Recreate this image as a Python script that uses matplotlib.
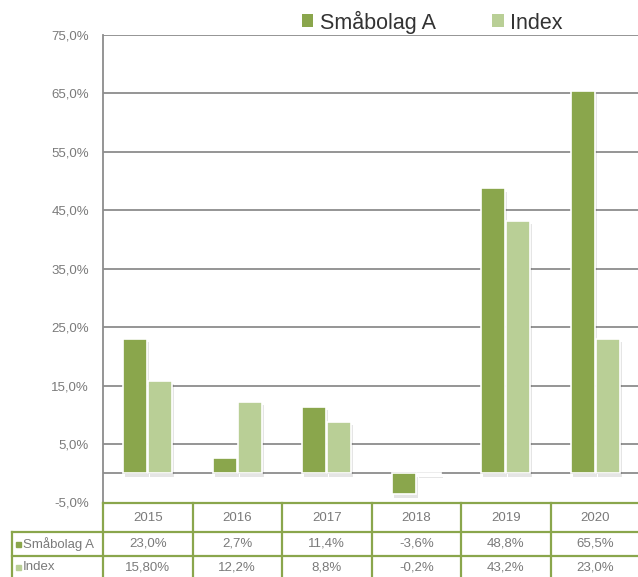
import matplotlib
matplotlib.use("Agg")
import matplotlib.pyplot as plt
import matplotlib.patheffects as pe
from matplotlib.patches import Rectangle
import numpy as np

years = ["2015", "2016", "2017", "2018", "2019", "2020"]
series_names = ["Småbolag A", "Index"]
smabolag = [23.0, 2.7, 11.4, -3.6, 48.8, 65.5]
index_vals = [15.8, 12.2, 8.8, -0.2, 43.2, 23.0]
smabolag_labels = ["23,0%", "2,7%", "11,4%", "-3,6%", "48,8%", "65,5%"]
index_labels = ["15,80%", "12,2%", "8,8%", "-0,2%", "43,2%", "23,0%"]
yticks = [-5, 5, 15, 25, 35, 45, 55, 65, 75]

DARK = "#8aa64c"
LIGHT = "#b9cf96"
TABLE_GREEN = "#8aa64c"
GRID = "#8c8c8c"
TXT = "#7a7a7a"

plt.rcParams['font.family'] = ['Liberation Sans', 'DejaVu Sans']

W, H = 638, 577
fig = plt.figure(figsize=(W / 100, H / 100), dpi=100)

ax_left, ax_right = 103, 640
ax_top, ax_bot = 35, 502.5
ax = fig.add_axes([ax_left / W, 1 - ax_bot / H, (ax_right - ax_left) / W, (ax_bot - ax_top) / H])
ax.set_xlim(-0.5, len(years) - 0.5)
ax.set_ylim(-5, 75)

x = np.arange(len(years))
bw = 0.268
shadow = [pe.SimplePatchShadow(offset=(1.5, -2.5), shadow_rgbFace="#000000", alpha=0.10), pe.Normal()]
b1 = ax.bar(x - bw / 2 - 0.005, smabolag, bw, color=DARK, edgecolor="white", linewidth=1.2, zorder=3)
b2 = ax.bar(x + bw / 2 + 0.005, index_vals, bw, color=LIGHT, edgecolor="white", linewidth=1.2, zorder=3)
for b in list(b1) + list(b2):
    b.set_path_effects(shadow)

for v in yticks[1:]:
    ax.axhline(v, color=GRID, lw=1.3, zorder=1)
ax.axhline(0, color=GRID, lw=1.3, zorder=1)

ax.set_yticks(yticks)
ax.set_yticklabels([f"{v},0%" for v in yticks], color=TXT, fontsize=9.5)
ax.tick_params(axis='y', length=0, pad=10)
ax.set_xticks([])
for s in ["top", "right", "bottom"]:
    ax.spines[s].set_visible(False)
ax.spines["left"].set_color(GRID)
ax.spines["left"].set_linewidth(1.3)

handles = [Rectangle((0, 0), 1, 1, facecolor=DARK, edgecolor="none"),
           Rectangle((0, 0), 1, 1, facecolor=LIGHT, edgecolor="none")]
leg = ax.legend(handles, series_names, loc="center", bbox_to_anchor=(0.613, 1.0 + 13 / (ax_bot - ax_top)),
                ncol=2, frameon=False, fontsize=15.5, handlelength=0.55, handleheight=0.55,
                columnspacing=2.6, handletextpad=0.3, borderaxespad=0, borderpad=0)
for t in leg.get_texts():
    t.set_color("#333333")

tax = fig.add_axes([0, 0, 1, 1])
tax.set_xlim(0, W)
tax.set_ylim(H, 0)
tax.axis("off")

col_w = (ax_right - ax_left) / len(years)
row_y = [502.5, 532, 556, 580]
lab_left = 12
lw = 1.6
tax.plot([ax_left, W], [row_y[0], row_y[0]], color=TABLE_GREEN, lw=lw)
for yy in row_y[1:3]:
    tax.plot([lab_left, W], [yy, yy], color=TABLE_GREEN, lw=lw)
tax.plot([lab_left, lab_left], [row_y[1], H], color=TABLE_GREEN, lw=lw)
for i in range(len(years) + 1):
    xx = ax_left + i * col_w
    tax.plot([xx, xx], [row_y[0], H], color=TABLE_GREEN, lw=lw)

for i, yr in enumerate(years):
    cx = ax_left + (i + 0.5) * col_w
    tax.text(cx, (row_y[0] + row_y[1]) / 2 + 1, yr, ha="center", va="center", color=TXT, fontsize=9.5)
    tax.text(cx, (row_y[1] + row_y[2]) / 2, smabolag_labels[i], ha="center", va="center", color=TXT, fontsize=9.5)
    tax.text(cx, (row_y[2] + row_y[3]) / 2 - 1, index_labels[i], ha="center", va="center", color=TXT, fontsize=9.5)

for r, (name, colr) in enumerate(zip(series_names, [DARK, LIGHT])):
    yc = (row_y[1 + r] + row_y[2 + r]) / 2 - (1 if r == 1 else 0)
    tax.add_patch(Rectangle((16, yc - 2.5), 5, 5, color=colr))
    tax.text(23, yc, name, ha="left", va="center", color=TXT, fontsize=9.5)

fig.savefig("out.png", dpi=100)
